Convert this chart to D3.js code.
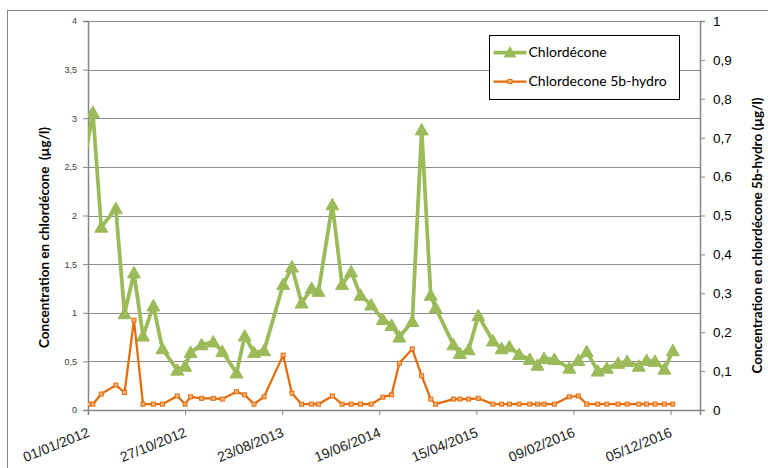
<!DOCTYPE html>
<html>
<head>
<meta charset="utf-8">
<script src="https://cdn.jsdelivr.net/npm/d3@7/dist/d3.min.js"></script>
<style>
  body { margin: 0; background: #fff; }
  svg { display: block; font-family: Lato, "Liberation Sans", sans-serif; }
</style>
</head>
<body>
<div class="chart"></div>
<script>
// sampling dates (dd/mm/yyyy); null = no value for that series
const dates = [
  "23/12/2011", "04/01/2012", "16/01/2012", "11/02/2012", "27/03/2012", "23/04/2012",
  "22/05/2012", "19/06/2012", "21/07/2012", "18/08/2012", "03/10/2012", "27/10/2012",
  "13/11/2012", "17/12/2012", "22/01/2013", "19/02/2013", "04/04/2013", "29/04/2013",
  "28/05/2013", "28/06/2013", "26/08/2013", "22/09/2013", "22/10/2013", "22/11/2013",
  "13/12/2013", "25/01/2014", "24/02/2014", "24/03/2014", "22/04/2014", "25/05/2014",
  "30/06/2014", "27/07/2014", "20/08/2014", "29/09/2014", "28/10/2014", "25/11/2014",
  "10/12/2014", "03/02/2015", "23/02/2015", "22/03/2015", "21/04/2015", "05/06/2015",
  "02/07/2015", "26/07/2015", "25/08/2015", "27/09/2015", "21/10/2015", "10/11/2015",
  "12/12/2015", "27/01/2016", "24/02/2016", "21/03/2016", "24/04/2016", "22/05/2016",
  "26/06/2016", "24/07/2016", "29/08/2016", "22/09/2016", "18/10/2016", "16/11/2016",
  "12/12/2016"
];

const chlordecone = [
  2.60, null, 3.06, 1.88, 2.07, 0.99, 1.41, 0.76, 1.07, 0.63, 0.41, 0.45,
  0.59, 0.67, 0.70, 0.60, 0.38, 0.76, 0.59, 0.61, 1.29, 1.47, 1.10, 1.25,
  1.22, 2.11, 1.29, 1.42, 1.18, 1.08, 0.93, 0.87, 0.75, 0.91, 2.88, 1.18,
  1.05, 0.67, 0.58, 0.62, 0.97, 0.71, 0.63, 0.65, 0.57, 0.52, 0.46, 0.53,
  0.52, 0.43, 0.51, 0.60, 0.40, 0.43, 0.48, 0.50, 0.45, 0.51, 0.50, 0.42,
  0.61
];

const hydro = [
  null, 0.015, 0.015, 0.041, 0.064, 0.045, 0.231, 0.015, 0.015, 0.015, 0.036, 0.015,
  0.034, 0.030, 0.030, 0.028, 0.047, 0.039, 0.015, 0.034, 0.141, 0.043, 0.015, 0.015,
  0.015, 0.036, 0.015, 0.015, 0.015, 0.015, 0.033, 0.039, 0.120, 0.157, 0.088, 0.028,
  0.015, 0.028, 0.028, 0.028, 0.030, 0.015, 0.015, 0.015, 0.015, 0.015, 0.015, 0.015,
  0.015, 0.034, 0.036, 0.015, 0.015, 0.015, 0.015, 0.015, 0.015, 0.015, 0.015, 0.015,
  0.015
];

const xTickLabels = ["01/01/2012", "27/10/2012", "23/08/2013", "19/06/2014", "15/04/2015", "09/02/2016", "05/12/2016"];
const xRange = ["01/01/2012", "06/03/2017"];
const leftTicks = [0, 0.5, 1, 1.5, 2, 2.5, 3, 3.5, 4];
const rightTicks = [0, 0.1, 0.2, 0.3, 0.4, 0.5, 0.6, 0.7, 0.8, 0.9, 1];

const seriesNames = ["Chlordécone", "Chlordecone 5b-hydro"];
const leftTitle = "Concentration en chlordécone\u00A0 (µg/l)";
const rightTitle = "Concentration en chlordécone 5b-hydro (µg/l)";

const width = 768, height = 468;
const plot = { left: 88, right: 700, top: 21, bottom: 410 };
const green = "#9BBB59", orange = "#E46C0A", axisGrey = "#868686";

const parse = d3.timeParse("%d/%m/%Y");
const comma = v => String(v).replace(".", ",");

const x = d3.scaleTime().domain(xRange.map(parse)).range([plot.left, plot.right]);
const yLeft = d3.scaleLinear().domain([0, 4]).range([plot.bottom, plot.top]);
const yRight = d3.scaleLinear().domain([0, 1]).range([plot.bottom, plot.top]);

const svg = d3.select("div.chart").append("svg")
  .attr("width", width)
  .attr("height", height);

// chart border (runs off the picture on the right and bottom)
svg.append("rect")
  .attr("x", 7.5).attr("y", 10.5)
  .attr("width", 900).attr("height", 600)
  .attr("fill", "none")
  .attr("stroke", axisGrey);

svg.append("defs").append("clipPath").attr("id", "plot-clip")
  .append("rect")
  .attr("x", plot.left).attr("y", plot.top - 10)
  .attr("width", plot.right - plot.left + 10)
  .attr("height", plot.bottom - plot.top + 20);

// gridlines
svg.append("g").selectAll("line")
  .data(leftTicks)
  .enter().append("line")
  .attr("x1", plot.left).attr("x2", plot.right)
  .attr("y1", d => Math.round(yLeft(d)) + 0.5)
  .attr("y2", d => Math.round(yLeft(d)) + 0.5)
  .attr("stroke", "#8c8c8c")
  .attr("stroke-width", 1);

// left axis
const leftAxis = svg.append("g")
  .attr("transform", `translate(${plot.left},0)`)
  .call(d3.axisLeft(yLeft).tickValues(leftTicks).tickSize(5).tickPadding(6).tickFormat(comma));
leftAxis.select(".domain").attr("stroke", axisGrey).attr("stroke-width", 1.5);
leftAxis.selectAll(".tick line").attr("stroke", axisGrey);
leftAxis.selectAll("text").attr("font-size", 9).attr("fill", "#404040");

// right axis
const rightAxis = svg.append("g")
  .attr("transform", `translate(${plot.right},0)`)
  .call(d3.axisRight(yRight).tickValues(rightTicks).tickSize(5).tickPadding(8).tickFormat(comma));
rightAxis.select(".domain").attr("stroke", axisGrey).attr("stroke-width", 1.5);
rightAxis.selectAll(".tick line").attr("stroke", axisGrey);
rightAxis.selectAll("text").attr("font-size", 13.5).attr("fill", "#000");

// bottom axis
const bottomAxis = svg.append("g")
  .attr("transform", `translate(0,${plot.bottom})`)
  .call(d3.axisBottom(x).tickValues(xTickLabels.map(parse)).tickSize(5).tickFormat(d3.timeFormat("%d/%m/%Y")));
bottomAxis.select(".domain").attr("stroke", axisGrey).attr("stroke-width", 1.5);
bottomAxis.selectAll(".tick line").attr("stroke", axisGrey);
bottomAxis.selectAll("text")
  .attr("font-size", 14)
  .attr("fill", "#1a1a1a")
  .attr("text-anchor", "end")
  .attr("dy", null)
  .attr("y", 0)
  .attr("transform", "translate(2,26) rotate(-22)");

// axis titles
svg.append("text")
  .attr("transform", `translate(49,${(plot.top + plot.bottom) / 2 + 22}) rotate(-90)`)
  .attr("text-anchor", "middle")
  .attr("font-size", 13.5)
  .attr("font-weight", "bold")
  .text(leftTitle);

svg.append("text")
  .attr("transform", `translate(762,${(plot.top + plot.bottom) / 2 + 20}) rotate(-90)`)
  .attr("text-anchor", "middle")
  .attr("font-size", 13.5)
  .attr("font-weight", "bold")
  .text(rightTitle);

// series
const rows = dates.map((d, i) => ({ date: parse(d), c: chlordecone[i], h: hydro[i] }));
const greenPts = rows.filter(r => r.c != null);
const orangePts = rows.filter(r => r.h != null);
const inRange = r => r.date >= x.domain()[0];

const triangle = "M0,-6.5L6.5,5L-6.5,5Z";

const series = svg.append("g").attr("clip-path", "url(#plot-clip)");

series.append("path")
  .datum(greenPts)
  .attr("fill", "none")
  .attr("stroke", green)
  .attr("stroke-width", 3.75)
  .attr("stroke-linejoin", "round")
  .attr("d", d3.line().x(d => x(d.date)).y(d => yLeft(d.c)));

series.selectAll("path.tri")
  .data(greenPts.filter(inRange))
  .enter().append("path")
  .attr("class", "tri")
  .attr("d", triangle)
  .attr("transform", d => `translate(${x(d.date)},${yLeft(d.c)})`)
  .attr("fill", green)
  .attr("stroke", green);

series.append("path")
  .datum(orangePts)
  .attr("fill", "none")
  .attr("stroke", orange)
  .attr("stroke-width", 2.25)
  .attr("stroke-linejoin", "round")
  .attr("d", d3.line().x(d => x(d.date)).y(d => yRight(d.h)));

series.selectAll("rect.sq")
  .data(orangePts.filter(inRange))
  .enter().append("rect")
  .attr("class", "sq")
  .attr("x", d => x(d.date) - 2)
  .attr("y", d => yRight(d.h) - 2)
  .attr("width", 4).attr("height", 4)
  .attr("fill", "#F9B27A")
  .attr("stroke", orange)
  .attr("stroke-width", 1);

// legend
const legend = svg.append("g").attr("transform", "translate(489.5,35.5)");
legend.append("rect")
  .attr("width", 190).attr("height", 64)
  .attr("fill", "#fff")
  .attr("stroke", "#000");

const entries = legend.selectAll("g.entry")
  .data(seriesNames)
  .enter().append("g")
  .attr("class", "entry")
  .attr("transform", (d, i) => `translate(0,${17 + i * 29})`);

entries.append("line")
  .attr("x1", 4).attr("x2", 37)
  .attr("stroke", (d, i) => i === 0 ? green : orange)
  .attr("stroke-width", (d, i) => i === 0 ? 3.75 : 2.25);

entries.filter((d, i) => i === 0).append("path")
  .attr("d", triangle)
  .attr("transform", "translate(20.5,0)")
  .attr("fill", green);

entries.filter((d, i) => i === 1).append("rect")
  .attr("x", 18.5).attr("y", -2)
  .attr("width", 4).attr("height", 4)
  .attr("fill", "#F9B27A")
  .attr("stroke", orange);

entries.append("text")
  .attr("x", 39)
  .attr("dy", "0.35em")
  .attr("font-size", 14)
  .attr("fill", "#000")
  .text(d => d);
</script>
</body>
</html>
